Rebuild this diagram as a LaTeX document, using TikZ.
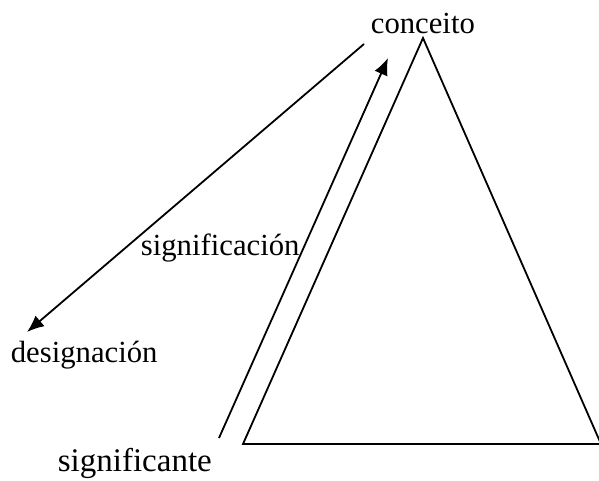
\documentclass[tikz,border=0pt]{standalone}
\usepackage{fontspec}
\setmainfont{Liberation Serif}
\usetikzlibrary{arrows.meta}

\begin{document}
\begin{tikzpicture}[x=1pt, y=-1pt, line width=1.8pt,
        font=\fontsize{30.7}{36}\selectfont,
        etiqueta/.style={inner sep=0pt, anchor=base west}]
        \useasboundingbox (0,0) rectangle (599,480);
        % vértices do triángulo
        \coordinate (T) at (423,38);
        \coordinate (L) at (243,444);
        \coordinate (R) at (601,444);

        % extremos das frechas
        \coordinate (S0) at (219,438);
        \coordinate (S1) at (388,58);
        \coordinate (D0) at (364,44);
        \coordinate (D1) at (27,332);

        % textos
        \node[etiqueta] (conceito) at (370,33) {conceito};
        \node[etiqueta] (signif) at (140,255) {significación};
        \node[etiqueta] (design) at (10,362) {designación};
        \node[etiqueta, font=\fontsize{33}{40}\selectfont] (signte) at (57,471) {significante};

        % triángulo e frechas
        \draw (T) -- (L) -- (R) -- cycle;
        \draw[-{Latex[length=17pt, width=14pt]}] (S0) -- (S1);
        \draw[-{Latex[length=17pt, width=14pt]}] (D0) -- (D1);
    \end{tikzpicture}
\end{document}
